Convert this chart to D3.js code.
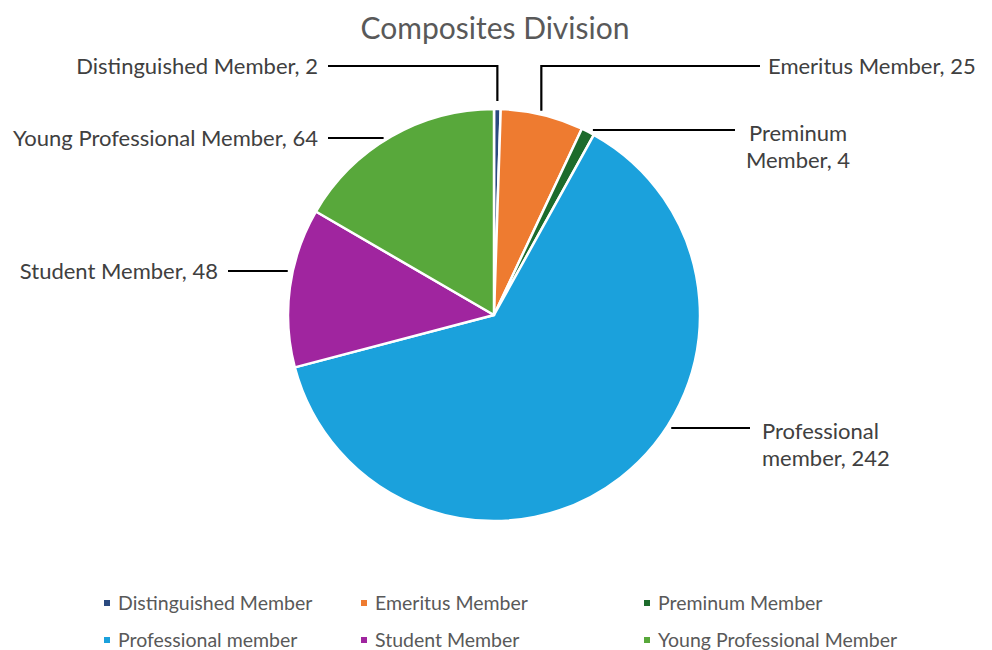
<!DOCTYPE html>
<html>
<head>
<meta charset="utf-8">
<script src="https://cdn.jsdelivr.net/npm/d3@7"></script>
<style>
  html, body { margin: 0; padding: 0; background: #ffffff; }
  svg { display: block; }
</style>
</head>
<body>
<svg id="chart" width="992" height="650"></svg>
<script>
// Membership counts for the Composites Division
const categories = [
  "Distinguished Member",
  "Emeritus Member",
  "Preminum Member",
  "Professional member",
  "Student Member",
  "Young Professional Member"
];
const values = [2, 25, 4, 242, 48, 64];
const colors = ["#2a4a7f", "#ee7b30", "#1d6b2c", "#1ba1dc", "#a0259f", "#58a83b"];

// Data-label text lines, one array per slice
const labelLines = [
  ["Distinguished Member, 2"],
  ["Emeritus Member, 25"],
  ["Preminum", "Member, 4"],
  ["Professional", "member, 242"],
  ["Student Member, 48"],
  ["Young Professional Member, 64"]
];

const svg = d3.select("#chart");
const cx = 494, cy = 315, R = 206;
const font = "Lato, 'Open Sans', sans-serif";

// Title
svg.append("text")
  .attr("x", cx + 1).attr("y", 39)
  .attr("text-anchor", "middle")
  .attr("font-family", font)
  .attr("font-size", 30)
  .attr("fill", "#595959")
  .text("Composites Division");

const data = categories.map((c, i) => ({ name: c, value: values[i], color: colors[i], lines: labelLines[i] }));

const pie = d3.pie().sort(null).value(d => d.value);
const arcs = pie(data);
const arc = d3.arc().innerRadius(0).outerRadius(R);

const g = svg.append("g").attr("transform", `translate(${cx},${cy})`);
g.selectAll("path")
  .data(arcs)
  .join("path")
  .attr("d", arc)
  .attr("fill", d => d.data.color)
  .attr("stroke", "#ffffff")
  .attr("stroke-width", 2.5)
  .attr("stroke-linejoin", "round");

// Label placement: side and text anchor point for each slice
const labelSpec = [
  { side: "left",  tx: 318, ty: 66,  elbow: true },
  { side: "right", tx: 768, ty: 66,  elbow: true },
  { side: "right", tx: 798, ty: 130, elbow: false, center: true },
  { side: "right", tx: 762, ty: 428, elbow: false },
  { side: "left",  tx: 218, ty: 271, elbow: false },
  { side: "left",  tx: 318, ty: 138, elbow: false }
];

const lineG = svg.append("g");
const labelG = svg.append("g");

arcs.forEach((d, i) => {
  const s = labelSpec[i];
  const mid = (d.startAngle + d.endAngle) / 2;
  let path;
  if (s.elbow) {
    // vertical drop from the horizontal line down to just above the slice edge
    const px = cx + Math.sin(mid) * R * (i === 0 ? 1 : 0.98);
    const py = cy - Math.cos(mid) * R - (i === 0 ? 8 : 4);
    const hx = s.side === "left" ? s.tx + 10 : s.tx - 8;
    path = [[hx, s.ty], [px, s.ty], [px, py]];
  } else {
    // horizontal line at the label's height, ending at the slice edge
    const yy = s.ty - cy;
    let ex;
    if (i === 2) {
      ex = cx + Math.sin(mid) * R;
    } else {
      const dx = Math.sqrt(Math.max(0, R * R - yy * yy));
      ex = s.side === "left" ? cx - dx : cx + dx;
    }
    const gap = 5;
    const endX = s.side === "left" ? ex - gap : ex + gap;
    const startX = s.side === "left" ? s.tx + 10 : (s.center ? s.tx - 63 : s.tx - 12);
    path = [[startX, s.ty], [endX, s.ty]];
  }
  lineG.append("path")
    .attr("d", d3.line()(path))
    .attr("fill", "none")
    .attr("stroke", "#000000")
    .attr("stroke-width", 2.2);

  const t = labelG.append("text")
    .attr("font-family", font)
    .attr("font-size", 22)
    .attr("fill", "#404040")
    .attr("text-anchor", s.center ? "middle" : (s.side === "left" ? "end" : "start"));
  const n = d.data.lines.length;
  d.data.lines.forEach((ln, k) => {
    const baseY = n === 1 ? s.ty + 8 : s.ty + 11 + k * 27;
    t.append("tspan")
      .attr("x", s.tx)
      .attr("y", baseY)
      .text(ln);
  });
});

// Legend: three columns, two rows
const legX = [104, 361, 644];
const legY = [603, 640];
const legend = svg.append("g");
data.forEach((d, i) => {
  const col = i % 3, row = Math.floor(i / 3);
  const x = legX[col], y = legY[row];
  legend.append("rect")
    .attr("x", x).attr("y", y - 3)
    .attr("width", 6).attr("height", 6)
    .attr("fill", d.color);
  legend.append("text")
    .attr("x", x + 14).attr("y", y + 7)
    .attr("font-family", font)
    .attr("font-size", 19.5)
    .attr("fill", "#595959")
    .text(d.name);
});
</script>
</body>
</html>
